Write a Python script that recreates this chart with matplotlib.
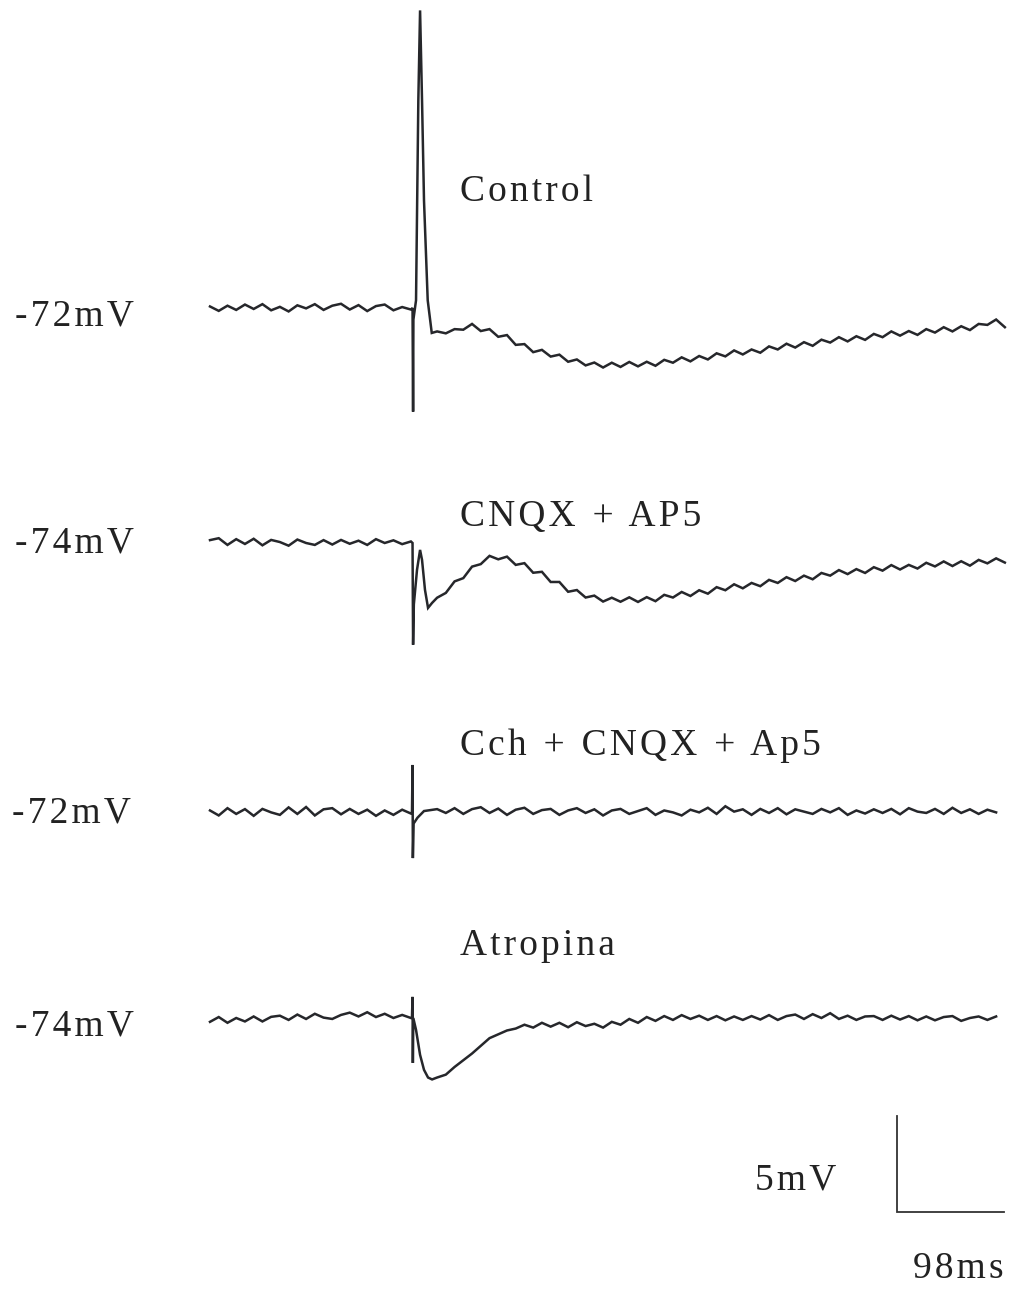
import numpy as np
import matplotlib
matplotlib.use("Agg")
import matplotlib.pyplot as plt

# ---------------- data (mV relative to resting level, time in ms) ----------------
dt = 8.0                      # grid step of the sampled trace values (ms)
t_post_start = 208.0          # first post-stimulus grid time (ms)

control_pre = [0.08, -0.15, 0.12, -0.10, 0.18, -0.05, 0.20, -0.12, 0.06, -0.18, 0.14, -0.02,
               0.20, -0.10, 0.12, 0.22, -0.08, 0.15, -0.16, 0.10, 0.18, -0.12, 0.05, -0.08]
control_evt_t = [185.5, 186.0, 186.3, 188.7, 190.8, 192.4, 194.2, 196.0, 199.4, 203.1]
control_evt_v = [0.0, -5.4, -0.6, 0.4, 10.8, 15.5, 10.8, 5.6, 0.4, -1.3]
control_post = [-1.22, -1.32, -1.10, -1.13, -0.83, -1.20, -1.10, -1.50, -1.41, -1.92,
                -1.88, -2.30, -2.18, -2.53, -2.43, -2.80, -2.68, -2.99, -2.84, -3.10,
                -2.85, -3.07, -2.81, -3.04, -2.80, -3.01, -2.70, -2.85, -2.57, -2.78,
                -2.50, -2.68, -2.36, -2.52, -2.21, -2.42, -2.16, -2.33, -2.00, -2.16,
                -1.86, -2.06, -1.78, -1.97, -1.65, -1.80, -1.52, -1.74, -1.47, -1.66,
                -1.35, -1.52, -1.22, -1.44, -1.20, -1.40, -1.10, -1.28, -1.00, -1.22,
                -0.95, -1.15, -0.83, -0.88, -0.60, -1.00]

cnqx_pre = [0.15, 0.25, -0.10, 0.20, -0.05, 0.22, -0.12, 0.16, 0.05, -0.14, 0.18, 0.00,
            -0.10, 0.15, -0.08, 0.16, -0.04, 0.12, -0.10, 0.20, 0.00, 0.14, -0.06, 0.08]
cnqx_evt_t = [185.5, 186.0, 186.7, 189.6, 192.4, 194.2, 196.9, 199.7, 203.4]
cnqx_evt_v = [0.0, -5.3, -3.2, -1.4, -0.36, -0.88, -2.44, -3.38, -3.12]
cnqx_post = [-2.85, -2.60, -2.00, -1.83, -1.23, -1.10, -0.67, -0.85, -0.71, -1.14,
             -1.05, -1.55, -1.50, -2.03, -2.03, -2.54, -2.45, -2.84, -2.74, -3.05,
             -2.85, -3.06, -2.83, -3.07, -2.82, -3.03, -2.70, -2.84, -2.55, -2.76,
             -2.46, -2.64, -2.30, -2.46, -2.15, -2.36, -2.08, -2.25, -1.92, -2.08,
             -1.78, -1.98, -1.70, -1.89, -1.56, -1.70, -1.41, -1.62, -1.36, -1.56,
             -1.26, -1.44, -1.15, -1.38, -1.14, -1.33, -1.03, -1.22, -0.96, -1.20,
             -0.95, -1.18, -0.88, -1.06, -0.80, -1.02]

cch_pre = [0.08, -0.18, 0.20, -0.10, 0.15, -0.20, 0.16, -0.02, -0.15, 0.24, -0.10, 0.26,
           -0.18, 0.14, 0.20, -0.12, 0.16, -0.10, 0.12, -0.20, 0.08, -0.15, 0.12, -0.08]
cch_evt_t = [185.0, 185.5, 185.8, 186.5, 190.0, 196.0, 202.0]
cch_evt_v = [0.0, 2.45, -2.4, -0.6, -0.3, 0.05, 0.1]
cch_post = [0.15, -0.05, 0.20, -0.10, 0.15, 0.25, -0.05, 0.18, -0.15, 0.12,
            0.22, -0.10, 0.10, 0.16, -0.15, 0.08, 0.20, -0.05, 0.14, -0.18,
            0.08, 0.16, -0.10, 0.05, 0.20, -0.15, 0.08, -0.02, -0.18, 0.12,
            -0.02, 0.22, -0.10, 0.30, 0.02, 0.14, -0.15, 0.16, -0.05, 0.20,
            -0.12, 0.14, 0.02, -0.10, 0.16, -0.02, 0.20, -0.15, 0.08, -0.08,
            0.14, -0.05, 0.16, -0.12, 0.20, 0.02, -0.05, 0.16, -0.10, 0.22,
            -0.05, 0.14, -0.10, 0.12, -0.02]

atro_pre = [-0.20, 0.05, -0.25, 0.00, -0.18, 0.08, -0.18, 0.06, 0.12, -0.10, 0.18, -0.05,
            0.22, 0.02, -0.05, 0.16, 0.28, 0.08, 0.30, 0.05, 0.22, 0.00, 0.16, 0.00]
atro_evt_t = [185.0, 185.5, 185.8, 186.2, 188.7, 192.4, 196.0, 199.7, 203.4]
atro_evt_v = [0.05, 1.1, -2.34, 0.0, -0.62, -1.92, -2.7, -3.1, -3.2]
atro_post = [-3.10, -2.95, -2.55, -2.20, -1.85, -1.45, -1.05, -0.85, -0.65, -0.55,
             -0.35, -0.50, -0.25, -0.45, -0.25, -0.48, -0.22, -0.42, -0.30, -0.50,
             -0.20, -0.35, -0.05, -0.25, 0.05, -0.15, 0.10, -0.10, 0.15, -0.05,
             0.12, -0.10, 0.10, -0.12, 0.08, -0.10, 0.10, -0.08, 0.15, -0.10,
             0.10, 0.18, -0.05, 0.20, 0.00, 0.25, -0.05, 0.12, -0.10, 0.08,
             0.10, -0.10, 0.12, -0.08, 0.10, -0.12, 0.08, -0.12, 0.05, 0.10,
             -0.15, 0.00, 0.08, -0.10, 0.08]

condition_labels = ["C\u200ao\u200an\u200at\u200ar\u200ao\u200al",
                    "C\u200aN\u200aQ\u200aX\u2009 +\u2009 A\u200aP\u200a5",
                    "C\u200ac\u200ah\u2009 +\u2009 C\u200aN\u200aQ\u200aX\u2009 +\u2009 A\u200ap\u200a5",
                    "A\u200at\u200ar\u200ao\u200ap\u200ai\u200an\u200aa"]
resting_labels = ["-\u200a7\u200a2\u200am\u200aV", "-\u200a7\u200a4\u200am\u200aV",
                  "-\u200a7\u200a2\u200am\u200aV", "-\u200a7\u200a4\u200am\u200aV"]
scale_mv = 5.0
scale_ms = 98.0
scale_labels = ["5\u200am\u200aV", "9\u200a8\u200am\u200as"]

# ---------------- layout ----------------
W, H = 1011, 1290
K = 98.0 / 107.0      # ms per pixel
M = 5.0 / 96.0        # mV per pixel
x0_px = 210           # trace start pixel
baselines_px = [308, 543, 812, 1018]
label_px_y = [192, 517, 746, 946]
rest_px = [(15, 316), (15, 543), (12, 813), (15, 1026)]

fig = plt.figure(figsize=(W / 100, H / 100), dpi=100)
ax = fig.add_axes([0, 0, 1, 1])
ax.set_xlim(-x0_px * K, (W - x0_px) * K)
ax.set_ylim(-H * M, 0)
ax.axis("off")

trace_color = "#26272b"
fam = ["Liberation Serif", "DejaVu Serif"]
fs = 27

traces = [(control_pre, control_evt_t, control_evt_v, control_post),
          (cnqx_pre, cnqx_evt_t, cnqx_evt_v, cnqx_post),
          (cch_pre, cch_evt_t, cch_evt_v, cch_post),
          (atro_pre, atro_evt_t, atro_evt_v, atro_post)]

for (pre, et, ev, post), base_px in zip(traces, baselines_px):
    t_pre = dt * np.arange(len(pre))
    t_post = t_post_start + dt * np.arange(len(post))
    t = np.concatenate([t_pre, et, t_post])
    v = np.concatenate([pre, ev, post])
    offset = -base_px * M
    ax.plot(t, v + offset, color=trace_color, lw=1.8, solid_joinstyle="miter")

def fpos(xp, yp):
    return xp / W, 1 - yp / H

for lab, yp in zip(condition_labels, label_px_y):
    fig.text(*fpos(460, yp), lab, family=fam, fontsize=fs, ha="left", va="center",
             color="#222222")
for lab, (xp, yp) in zip(resting_labels, rest_px):
    fig.text(*fpos(xp, yp), lab, family=fam, fontsize=fs, ha="left", va="center",
             color="#222222")

# scale bar
sb_x = (897 - x0_px) * K
sb_y = -1212 * M
ax.plot([sb_x, sb_x, sb_x + scale_ms], [sb_y + scale_mv, sb_y, sb_y],
        color="#333333", lw=1.3, solid_joinstyle="miter")
fig.text(*fpos(755, 1180), scale_labels[0], family=fam, fontsize=fs, ha="left",
         va="center", color="#222222")
fig.text(*fpos(913, 1269), scale_labels[1], family=fam, fontsize=fs, ha="left",
         va="center", color="#222222")

fig.savefig("out.png", dpi=100)
